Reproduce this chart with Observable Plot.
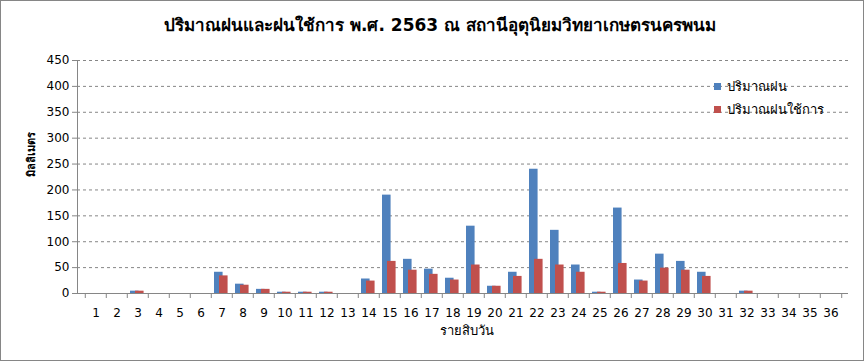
<!DOCTYPE html>
<html>
<head>
<meta charset="utf-8">
<script src="https://cdn.jsdelivr.net/npm/d3@7"></script>
<script src="https://cdn.jsdelivr.net/npm/@observablehq/plot@0.6"></script>
<style>
  html, body { margin: 0; padding: 0; background: #fff; }
  #chart { width: 864px; height: 361px; position: relative; }
  #chart svg { display: block; outline: 1px solid #868686; outline-offset: -1px; }
</style>
</head>
<body>
<div id="chart"></div>
<script>
const titleText = "ปริมาณฝนและฝนใช้การ พ.ศ. 2563 ณ สถานีอุตุนิยมวิทยาเกษตรนครพนม";
const yLabel = "มิลลิเมตร";
const xLabel = "รายสิบวัน";
const seriesNames = ["ปริมาณฝน", "ปริมาณฝนใช้การ"];
const seriesColors = ["#4F81BD", "#C0504D"];
const periods = d3.range(1, 37).map(String);
const rain = [0,0,4.5,0,0,0,41,18,8,2.5,2.5,2.5,0,28,190,66,47,29.5,130,14,41,240,122,55,2.5,165,26,76,62,41,0,4.5,0,0,0,0];
const effRain = [0,0,4.5,0,0,0,34,16,8,2.5,2.5,2.5,0,24,62,45,37,26,55,14,33,66,55,41,2.5,58,24,49,45,33,0,4.5,0,0,0,0];
const yTicks = d3.range(0, 451, 50);

const rainData = periods.map((p, i) => ({period: p, value: rain[i]}));
const effData = periods.map((p, i) => ({period: p, value: effRain[i]}));

const W = 864, H = 361;
const mL = 77, mR = 16, mT = 60, mB = 68;
const bw = (W - mL - mR) / periods.length;
const font = "Tahoma, 'DejaVu Sans', 'Noto Sans', sans-serif";
const grey = "#868686";

const plot = Plot.plot({
  width: W,
  height: H,
  marginLeft: mL,
  marginRight: mR,
  marginTop: mT,
  marginBottom: mB,
  style: {fontFamily: font, fontSize: "12px", color: "#000", background: "#fff", overflow: "visible"},
  x: {type: "band", domain: periods, padding: 0, label: null},
  y: {domain: [0, 450], ticks: yTicks, label: null},
  marks: [
    Plot.gridY(yTicks.filter(d => d > 0), {stroke: grey, strokeOpacity: 1, strokeDasharray: "3,3"}),
    Plot.axisY(yTicks, {tickSize: 5, tickPadding: 3, stroke: grey, fill: "#000", fontSize: 12}),
    Plot.axisX({tickSize: 0, tickPadding: 15, fill: "#000", fontSize: 12}),
    Plot.axisX({tickSize: 5, dx: -bw / 2, tickFormat: () => "", stroke: grey}),
    Plot.axisX([periods[periods.length - 1]], {tickSize: 5, dx: bw / 2, tickFormat: () => "", stroke: grey}),
    Plot.barY(rainData, {x: "period", y: "value", fill: seriesColors[0], insetLeft: 3, insetRight: bw - 12}),
    Plot.barY(effData, {x: "period", y: "value", fill: seriesColors[1], insetLeft: 8, insetRight: bw - 17}),
    Plot.ruleY([0], {stroke: grey}),
    Plot.frame({anchor: "left", stroke: grey}),
    Plot.text([yLabel], {frameAnchor: "left", dx: -46, rotate: -90, fontSize: 11, fontWeight: "bold", fill: "#000"}),
    Plot.text([xLabel], {frameAnchor: "bottom", dx: 4, dy: 41, fontSize: 13, fill: "#000"})
  ]
});

const svg = d3.select(plot);
svg.append("text")
  .attr("x", 440).attr("y", 26)
  .attr("text-anchor", "middle").attr("dominant-baseline", "middle")
  .attr("font-family", font).attr("font-size", 17).attr("font-weight", "bold")
  .attr("fill", "#000")
  .text(titleText);

const lg = svg.append("g").attr("font-family", font).attr("font-size", 13).attr("text-anchor", "start");
seriesNames.forEach((name, i) => {
  const cy = 87 + i * 23;
  lg.append("rect").attr("x", 714).attr("y", cy - 4).attr("width", 7).attr("height", 7).attr("fill", seriesColors[i]);
  lg.append("text").attr("x", 727).attr("y", cy).attr("text-anchor", "start").attr("dominant-baseline", "middle").attr("fill", "#000").text(name);
});

document.getElementById("chart").appendChild(plot);
</script>
</body>
</html>
